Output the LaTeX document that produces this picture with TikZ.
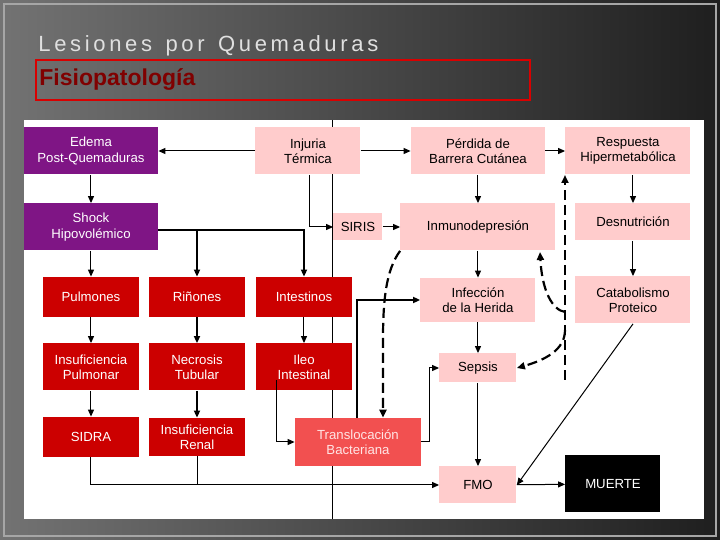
\documentclass[tikz,border=0pt]{standalone}
\usepackage{fontspec}
\setmainfont{Liberation Sans}
\usetikzlibrary{arrows.meta}
\definecolor{purp}{HTML}{7F1585}
\definecolor{dred}{HTML}{CC0000}
\definecolor{pnk}{HTML}{FFCCCC}
\definecolor{trans}{HTML}{F25050}
\begin{document}
\begin{tikzpicture}[x=0.5pt,y=-0.5pt,
 box/.style={minimum width=#1*0.5pt, align=center, inner sep=0pt, font=\fontsize{6.6}{7.6}\selectfont},
 pb/.style={box=134, minimum height=23.5pt, fill=purp, text=white},
 rb/.style={box=96, minimum height=20pt, fill=dred, text=white},
 kb/.style={fill=pnk, text=black},
 ar/.style={-{Triangle[length=3.5pt,width=3pt]}, line width=0.5pt},
 thk/.style={line width=1.2pt},
 dsh/.style={dashed, line width=1.1pt, dash pattern=on 5pt off 2.5pt, -{Triangle[length=4pt,width=3.5pt]}}]
\useasboundingbox (0,0) rectangle (720,540);
\shade[left color=black!55, right color=black!88] (0,0) rectangle (720,540);
\draw[black!35, line width=1pt] (4,4) rectangle (716,536);
\node[anchor=west, inner sep=0pt, text=black!12, font=\fontsize{11}{13}\selectfont] at (38,46) {L\,e\,s\,i\,o\,n\,e\,s\, \,p\,o\,r\, \,Q\,u\,e\,m\,a\,d\,u\,r\,a\,s};
\draw[red!85!black, line width=1pt] (36,60) rectangle (530,100);
\node[anchor=west, inner sep=0pt, text=red!50!black, font=\bfseries\fontsize{11.5}{13}\selectfont] at (39,80) {Fisiopatología};
\fill[white] (24,120) rectangle (704,519);
\draw[line width=0.5pt] (333,120) -- (333,519);
% nodes
\node[pb] (edema) at (91,151) {Edema\\Post-Quemaduras};
\node[pb] (shock) at (91,227) {Shock\\Hipovolémico};
\node[box=105, minimum height=23.5pt, kb] (inj) at (308,151) {Injuria\\Térmica};
\node[box=134, minimum height=23.5pt, kb] (perd) at (478,151) {Pérdida de\\Barrera Cutánea};
\node[box=125, minimum height=23.5pt, kb] (resp) at (628,151) {Respuesta\\Hipermetabólica};
\node[box=49, minimum height=13.5pt, kb] (siris) at (358,227) {SIRIS};
\node[box=155, minimum height=23.5pt, kb] (inmu) at (478,227) {Inmunodepresión};
\node[box=115, minimum height=18.5pt, kb] (desn) at (633,222) {Desnutrición};
\node[rb] (pulm) at (91,297) {Pulmones};
\node[rb] (rin) at (197,297) {Riñones};
\node[rb] (intes) at (304,297) {Intestinos};
\node[box=115, minimum height=22pt, kb] (infe) at (478,300) {Infección\\de la Herida};
\node[box=115, minimum height=23.5pt, kb] (cata) at (633,300) {Catabolismo\\Proteico};
\node[rb, minimum height=23.5pt] (ipul) at (91,367) {Insuficiencia\\Pulmonar};
\node[rb, minimum height=23.5pt] (necr) at (197,367) {Necrosis\\Tubular};
\node[rb, minimum height=23.5pt] (ileo) at (304,367) {Ileo\\Intestinal};
\node[box=77, minimum height=14.5pt, kb] (seps) at (478,368) {Sepsis};
\node[rb] (sidra) at (91,437) {SIDRA};
\node[rb, minimum height=19pt] (iren) at (197,437) {Insuficiencia\\Renal};
\node[box=126, minimum height=24pt, fill=trans, text=white!90!red] (tras) at (358,442) {Translocación\\Bacteriana};
\node[box=77, minimum height=18.5pt, kb] (fmo) at (478,485) {FMO};
\node[box=95, minimum height=28.5pt, fill=black, text=white] (muer) at (613,484) {MUERTE};
\coordinate (j1) at (565,312);
% connectors
\draw[ar] (inj) -- (edema);
\draw[ar] (inj) -- (perd);
\draw[ar] (perd) -- (resp);
\draw[ar] (edema) -- (shock);
\draw[ar] (shock) -- (pulm);
\draw[ar, thk] (shock.east |- 0,230) -| (intes.north);
\draw[ar, thk] (197,230) -- (rin.north);
\draw[ar] (310,175) |- (siris.west);
\draw[ar] (siris) -- (inmu);
\draw[ar] (perd) -- (inmu);
\draw[ar] (inmu) -- (infe);
\draw[ar] (infe) -- (seps);
\draw[ar] (seps) -- (fmo);
\draw[ar] (fmo) -- (muer);
\draw[ar] (resp.south -| desn) -- (desn);
\draw[ar] (desn) -- (cata);
\draw[ar] (pulm) -- (ipul);
\draw[ar] (ipul) -- (sidra);
\draw[ar, thk] (rin) -- (necr);
\draw[ar, thk] (necr) -- (iren);
\draw[ar] (intes) -- (ileo);
\draw[ar] (cata.south) -- (fmo.east);
\draw[ar] (277,380) |- (tras.west);
\draw[ar] (tras.east) -| (430,368) -- (seps.west);
\draw[ar, thk] (357,418) |- (infe.west);
\draw[ar] (sidra.south) |- (fmo.west);
\draw (iren.south) -- (197,485);
% dashed
\draw[dsh] (inmu.south west) .. controls (386,270) and (383,300) .. (383,340) -- (tras.north -| 383,0);
\draw[dsh] (565,380) -- (565,175);
\draw[dsh] (565,330) .. controls (565,350) and (545,360) .. (seps.east);
\draw[dsh] (j1) .. controls (552,310) and (542,290) .. (540,252);
\end{tikzpicture}
\end{document}
